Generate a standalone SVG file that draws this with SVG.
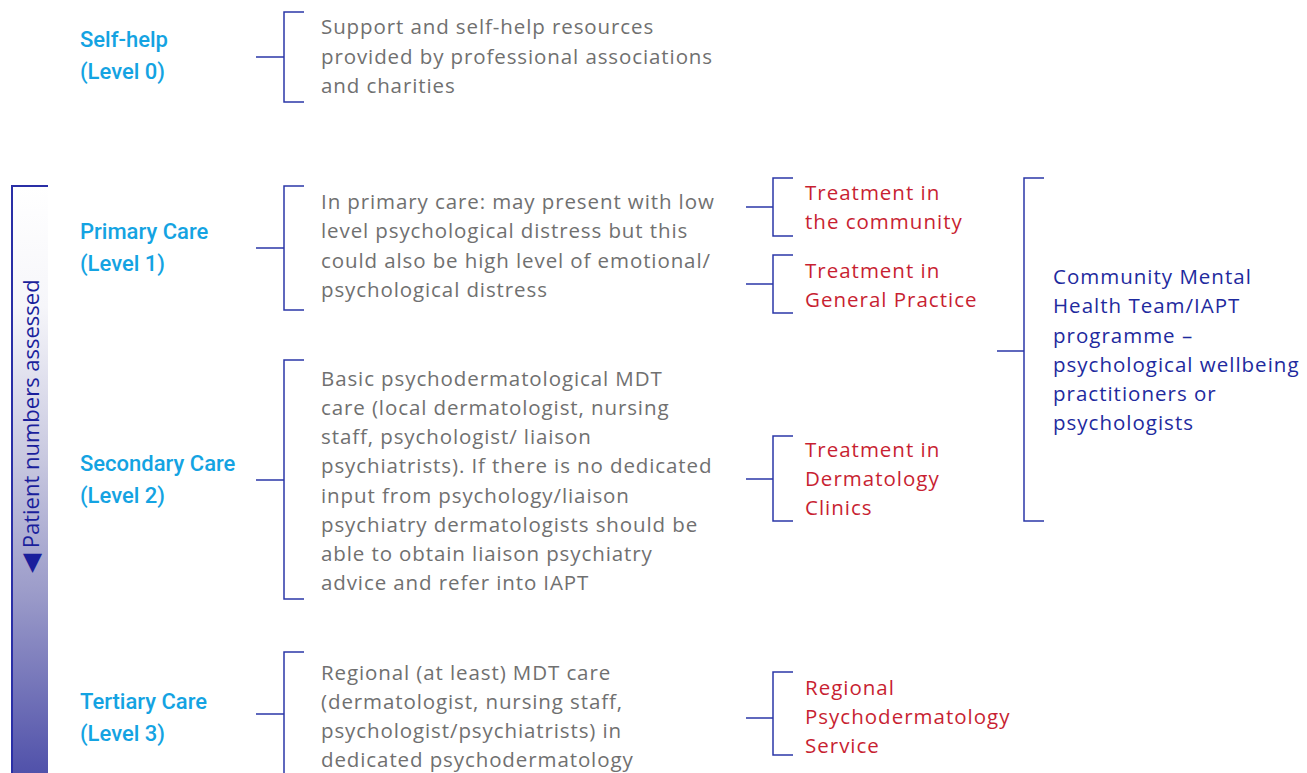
<svg xmlns="http://www.w3.org/2000/svg" width="1307" height="773" viewBox="0 0 1307 773">
<defs>
<linearGradient id="barGrad" x1="0" y1="0" x2="0" y2="1">
<stop offset="0" stop-color="#ffffff"/>
<stop offset="0.2" stop-color="#f6f6fa"/>
<stop offset="0.45" stop-color="#c9c9e0"/>
<stop offset="0.68" stop-color="#9b9bc9"/>
<stop offset="1" stop-color="#4b4ca8"/>
</linearGradient>
<style>
.br{fill:none;stroke:#2b37a8;stroke-width:1.5}
.lab{font-family:Roboto,"Liberation Sans",sans-serif;font-size:22px;font-weight:500;fill:#14a3e2}
.desc{font-family:"Open Sans","Liberation Sans",sans-serif;font-size:20.5px;letter-spacing:0.9px;fill:#707070}
.red{font-family:"Open Sans","Liberation Sans",sans-serif;font-size:20.5px;letter-spacing:1px;fill:#c81f32}
.blu{font-family:"Open Sans","Liberation Sans",sans-serif;font-size:20.5px;letter-spacing:1px;fill:#1e2a9e}
.pna{font-family:"Open Sans","Liberation Sans",sans-serif;font-size:22px;fill:#1a1f9c}
</style>
</defs>
<rect width="1307" height="773" fill="#ffffff"/>
<g id="patient-bar">
<rect x="12" y="186" width="36" height="600" fill="url(#barGrad)"/>
<path d="M12 787V186H48" fill="none" stroke="#2a2fa6" stroke-width="2"/>
<text class="pna" transform="translate(39 573) rotate(-90)"><tspan font-size="25">◀</tspan> Patient numbers assessed</text>
</g>
<g id="connectors">
<path class="br" d="M256 57H284M304 12H284V102H304"/>
<path class="br" d="M256 248H284M304 186H284V310H304"/>
<path class="br" d="M256 480H284M304 360H284V599H304"/>
<path class="br" d="M256 714H284M304 652H284V780"/>
<path class="br" d="M746 207H773M793 178H773V236H793"/>
<path class="br" d="M746 284H773M793 255H773V313H793"/>
<path class="br" d="M746 479H773M793 436H773V521H793"/>
<path class="br" d="M746 718H773M793 672H773V755H793"/>
<path class="br" d="M997 351H1024M1044 178H1024V521H1044"/>
</g>
<g id="self-help">
<text class="lab" x="80" y="47">Self-help</text>
<text class="lab" x="80" y="79">(Level 0)</text>
<text class="desc" x="321" y="34">Support and self-help resources</text>
<text class="desc" x="321" y="64">provided by professional associations</text>
<text class="desc" x="321" y="93">and charities</text>
</g>
<g id="primary-care">
<text class="lab" x="80" y="239">Primary Care</text>
<text class="lab" x="80" y="271">(Level 1)</text>
<text class="desc" x="321" y="209">In primary care: may present with low</text>
<text class="desc" x="321" y="238">level psychological distress but this</text>
<text class="desc" x="321" y="268">could also be high level of emotional/</text>
<text class="desc" x="321" y="297">psychological distress</text>
</g>
<g id="secondary-care">
<text class="lab" x="80" y="471">Secondary Care</text>
<text class="lab" x="80" y="503">(Level 2)</text>
<text class="desc" x="321" y="386">Basic psychodermatological MDT</text>
<text class="desc" x="321" y="415">care (local dermatologist, nursing</text>
<text class="desc" x="321" y="444">staff, psychologist/ liaison</text>
<text class="desc" x="321" y="473">psychiatrists). If there is no dedicated</text>
<text class="desc" x="321" y="503">input from psychology/liaison</text>
<text class="desc" x="321" y="532">psychiatry dermatologists should be</text>
<text class="desc" x="321" y="561">able to obtain liaison psychiatry</text>
<text class="desc" x="321" y="590">advice and refer into IAPT</text>
</g>
<g id="tertiary-care">
<text class="lab" x="80" y="709">Tertiary Care</text>
<text class="lab" x="80" y="741">(Level 3)</text>
<text class="desc" x="321" y="680">Regional (at least) MDT care</text>
<text class="desc" x="321" y="709">(dermatologist, nursing staff,</text>
<text class="desc" x="321" y="738">psychologist/psychiatrists) in</text>
<text class="desc" x="321" y="767">dedicated psychodermatology</text>
</g>
<g id="treatment-community">
<text class="red" x="805" y="200">Treatment in</text>
<text class="red" x="805" y="229">the community</text>
</g>
<g id="treatment-gp">
<text class="red" x="805" y="278">Treatment in</text>
<text class="red" x="805" y="307">General Practice</text>
</g>
<g id="treatment-derm">
<text class="red" x="805" y="457">Treatment in</text>
<text class="red" x="805" y="486">Dermatology</text>
<text class="red" x="805" y="515">Clinics</text>
</g>
<g id="regional-service">
<text class="red" x="805" y="695">Regional</text>
<text class="red" x="805" y="724">Psychodermatology</text>
<text class="red" x="805" y="753">Service</text>
</g>
<g id="cmht">
<text class="blu" x="1053" y="284">Community Mental</text>
<text class="blu" x="1053" y="313">Health Team/IAPT</text>
<text class="blu" x="1053" y="343">programme –</text>
<text class="blu" x="1053" y="372">psychological wellbeing</text>
<text class="blu" x="1053" y="401">practitioners or</text>
<text class="blu" x="1053" y="430">psychologists</text>
</g>
</svg>
